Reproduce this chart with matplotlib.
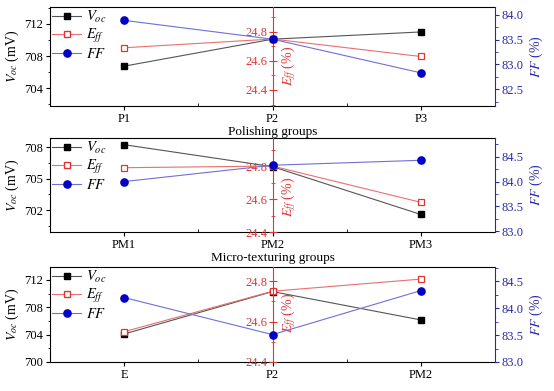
import matplotlib
matplotlib.use("Agg")
import matplotlib.pyplot as plt
from matplotlib.ticker import MultipleLocator
from matplotlib.lines import Line2D

plt.rcParams['font.family'] = ['Liberation Serif', 'DejaVu Serif']
plt.rcParams['mathtext.fontset'] = 'stix'
plt.rcParams['font.size'] = 9

# ---- data ----
cats1 = ['P1', 'P2', 'P3']
voc1 = [706.75, 710.1, 711.0]
eff1 = [24.69, 24.75, 24.63]
ff1 = [83.89, 83.51, 82.83]

cats2 = ['PM1', 'PM2', 'PM3']
voc2 = [708.26, 706.16, 701.58]
eff2 = [24.79, 24.80, 24.58]
ff2 = [84.0, 84.33, 84.43]

cats3 = ['E', 'P2', 'PM2']
voc3 = [704.1, 710.3, 706.15]
eff3 = [24.55, 24.75, 24.81]
ff3 = [84.2, 83.51, 84.33]

xlabels = ['Polishing groups', 'Micro-texturing groups', None]

RED = '#e03535'
BLUE = '#2a2aa8'
LBLUE = '#6f6fd8'
LRED = '#e87070'
MS = 4.6

fig = plt.figure(figsize=(5.54, 3.91), dpi=100)

boxes = [(0.0903, 0.7289, 0.8032, 0.2532),
         (0.0903, 0.4066, 0.8032, 0.2404),
         (0.0903, 0.0742, 0.8032, 0.2430)]

panels = [
    (cats1, voc1, eff1, ff1, (701.8, 714.1), 4, (24.29, 24.97), (82.16, 84.16), 0.40),
    (cats2, voc2, eff2, ff2, (699.9, 708.9), 3, (24.40, 24.97), (82.98, 84.88), 0.37),
    (cats3, voc3, eff3, ff3, (700.0, 713.9), 4, (24.40, 24.87), (83.0, 84.77), 0.52),
]

for i, (cats, voc, eff, ff, vlim, vstep, elim, flim, lab_y) in enumerate(panels):
    x = [1, 2, 3]
    ax = fig.add_axes(boxes[i])
    ax_e = ax.twinx()
    ax_f = ax.twinx()

    # Voc on the left axis
    ax.plot(x, voc, '-', color='#555555', lw=0.8)
    ax.plot(x, voc, 's', color='black', ms=MS, ls='none')
    ax.set_xlim(0.5, 3.5)
    ax.set_ylim(*vlim)
    ax.yaxis.set_major_locator(MultipleLocator(vstep))
    ax.yaxis.set_minor_locator(MultipleLocator(vstep / 2))
    ax.set_xticks(x)
    ax.set_xticklabels(cats)
    ax.xaxis.set_minor_locator(MultipleLocator(0.5))
    ax.tick_params(axis='x', which='major', direction='out', length=3, pad=2)
    ax.tick_params(axis='x', which='minor', direction='in', length=2.5)
    ax.tick_params(axis='y', which='major', direction='out', length=3, pad=2)
    ax.tick_params(axis='y', which='minor', direction='out', length=1.8)
    ax.spines['right'].set_visible(False)
    ax.set_ylabel('$V_{oc}$ (mV)', fontsize=10, labelpad=2)
    if xlabels[i]:
        ax.set_xlabel(xlabels[i], fontsize=9.5, labelpad=1)

    # Eff on a spine through the middle category
    ax_e.plot(x, eff, '-', color=LRED, lw=0.8)
    ax_e.plot(x, eff, 's', mfc='white', mec=RED, mew=0.9, ms=MS, ls='none')
    ax_e.set_ylim(*elim)
    for s in ['right', 'top', 'bottom']:
        ax_e.spines[s].set_visible(False)
    ax_e.spines['left'].set_visible(True)
    ax_e.spines['left'].set_position(('data', 2))
    ax_e.spines['left'].set_color(RED)
    ax_e.yaxis.tick_left()
    ax_e.yaxis.set_major_locator(MultipleLocator(0.2))
    ax_e.yaxis.set_minor_locator(MultipleLocator(0.1))
    ax_e.tick_params(axis='y', which='major', direction='inout', length=6,
                     colors=RED, pad=1)
    ax_e.tick_params(axis='y', which='minor', direction='inout', length=3,
                     colors=RED)
    for t in ax_e.get_yticklabels():
        t.set_color(RED)
    ax_e.text(2.11, elim[0] + lab_y * (elim[1] - elim[0]), '$E_{ff}$ (%)',
              color=RED, rotation=90, ha='center', va='center', fontsize=10)

    # FF on the right axis
    ax_f.plot(x, ff, '-', color=LBLUE, lw=0.8)
    ax_f.plot(x, ff, 'o', color='#0000c8', ms=MS + 0.6, ls='none')
    ax_f.set_ylim(*flim)
    for s in ['left', 'top', 'bottom']:
        ax_f.spines[s].set_visible(False)
    ax_f.spines['right'].set_color(BLUE)
    ax_f.yaxis.set_major_locator(MultipleLocator(0.5))
    ax_f.yaxis.set_minor_locator(MultipleLocator(0.25))
    ax_f.tick_params(axis='y', which='major', direction='out', length=3,
                     colors=BLUE, pad=2)
    ax_f.tick_params(axis='y', which='minor', direction='out', length=1.8,
                     colors=BLUE)
    ax_f.set_ylabel('$FF$ (%)', color=BLUE, fontsize=10, labelpad=3)

    handles = [
        Line2D([], [], color='#555555', lw=0.8, marker='s', mfc='black',
               mec='black', ms=MS),
        Line2D([], [], color=LRED, lw=0.8, marker='s', mfc='white',
               mec=RED, ms=MS),
        Line2D([], [], color=LBLUE, lw=0.8, marker='o', mfc='#0000c8',
               mec='#0000c8', ms=MS + 0.6),
    ]
    ax_f.legend(handles, ['$V_{oc}$', '$E_{ff}$', '$FF$'], loc='upper left',
                bbox_to_anchor=(0.0, 1.0), borderaxespad=0.0, frameon=False,
                handlelength=2.0, handletextpad=0.3, labelspacing=0.12,
                borderpad=0.15, fontsize=10.5)

fig.savefig('out.png', dpi=100)
